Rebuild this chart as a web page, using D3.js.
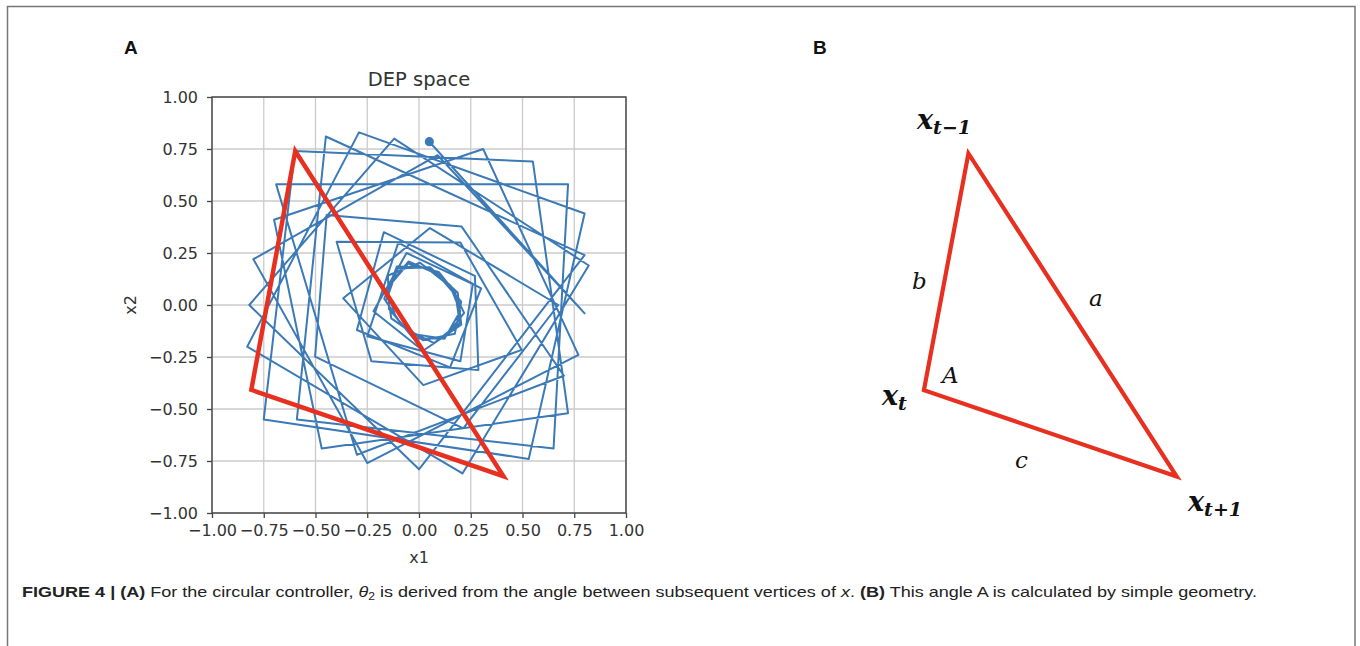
<!DOCTYPE html>
<html><head><meta charset="utf-8">
<script src="https://cdn.jsdelivr.net/npm/d3@7"></script>
<style>
body{margin:0;background:#fff;}
svg{display:block;}
</style></head>
<body><svg id="fig" width="1360" height="646"></svg>
<script>
// ---------- DATA ----------
const tickValues = [-1.00, -0.75, -0.50, -0.25, 0.00, 0.25, 0.50, 0.75, 1.00];
const trajX = [0.05, 0.80, 0.09, -0.80, -0.25, 0.77, 0.31, -0.70, -0.47, 0.72, 0.55, -0.60, -0.75, 0.53, 0.80, -0.29, -0.83, 0.21, 0.82, -0.12, -0.82, 0.00,
  0.80, -0.45, -0.59, 0.65, 0.72, -0.69, -0.30, 0.70,
  0.206, -0.446, -0.502, 0.214, 0.673, 0.053, -0.366, 0.021, 0.496, 0.20, -0.398, -0.23, 0.287, 0.27, -0.17, -0.30, 0.15, 0.30, -0.10, -0.25, 0.20, 0.26, -0.06, -0.22, 0.02,
  0.204, 0.187, 0.092, -0.051, -0.155, -0.134, -0.024, 0.121, 0.218, 0.153, 0.055, -0.107, -0.168, -0.088, 0.019, 0.173, 0.204, 0.117,
  0.005, -0.150, -0.145, -0.058, 0.073, 0.197, 0.175, 0.095, -0.052, -0.155, -0.113, -0.027, 0.124, 0.199, 0.150, 0.052, -0.104, -0.157];
const trajY = [0.785, -0.04, 0.72, 0.22, -0.76, -0.24, 0.75, 0.41, -0.69, -0.52, 0.69, 0.74, -0.55, -0.74, 0.44, 0.83, -0.20, -0.81, 0.19, 0.80, 0.00, -0.79,
  0.24, 0.81, -0.55, -0.69, 0.58, 0.58, -0.72, -0.34,
  0.377, 0.433, -0.248, -0.593, 0.000, 0.370, 0.032, -0.385, -0.216, 0.30, 0.304, -0.27, -0.3125, 0.14, 0.35, -0.12, -0.30, 0.08, 0.30, -0.15, -0.27, 0.10, 0.25, -0.03, -0.22,
  -0.094, 0.059, 0.148, 0.209, 0.083, -0.064, -0.140, -0.162, -0.038, 0.093, 0.180, 0.185, 0.030, -0.088, -0.169, -0.138, 0.016, 0.116,
  0.203, 0.142, -0.020, -0.118, -0.183, -0.086, 0.059, 0.159, 0.199, 0.079, -0.057, -0.161, -0.161, -0.030, 0.094, 0.182, 0.175, 0.026];
const triAX = [-0.598, -0.810, 0.408];
const triAY = [0.740, -0.408, -0.823];
// Panel B triangle (unitless 0-100 drawing coordinates)
const triBX = [28.2, 17.6, 77.8];
const triBY = [14.1, 66.7, 85.9];

// ---------- SETUP ----------
const svg = d3.select('#fig');
svg.append('rect').attr('x',7.5).attr('y',6.5).attr('width',1347.5).attr('height',660)
  .attr('fill','none').attr('stroke','#777').attr('stroke-width',1.5);

// Panel labels
svg.append('text').attr('x',124).attr('y',54).text('A')
  .attr('font-family','Liberation Sans, Arial, sans-serif').attr('font-weight','bold').attr('font-size',19).attr('fill','#111');
svg.append('text').attr('x',813).attr('y',54).text('B')
  .attr('font-family','Liberation Sans, Arial, sans-serif').attr('font-weight','bold').attr('font-size',19).attr('fill','#111');

// ---------- PANEL A ----------
const x = d3.scaleLinear().domain([-1,1]).range([212,626]);
const y = d3.scaleLinear().domain([-1,1]).range([513,97]);
const gA = svg.append('g');
const fmt = d3.format('.2f');

// grid
gA.append('g').selectAll('line').data(tickValues).join('line')
  .attr('x1',d=>x(d)).attr('x2',d=>x(d)).attr('y1',y(-1)).attr('y2',y(1))
  .attr('stroke','#cbcbcb').attr('stroke-width',1.3);
gA.append('g').selectAll('line').data(tickValues).join('line')
  .attr('y1',d=>y(d)).attr('y2',d=>y(d)).attr('x1',x(-1)).attr('x2',x(1))
  .attr('stroke','#cbcbcb').attr('stroke-width',1.3);

// trajectory
const traj = trajX.map((v,i)=>[v,trajY[i]]);
const line = d3.line().x(d=>x(d[0])).y(d=>y(d[1]));
gA.append('path').attr('d',line(traj)).attr('fill','none')
  .attr('stroke','#3b7ab7').attr('stroke-width',2).attr('stroke-linejoin','round').attr('stroke-linecap','round');
gA.append('circle').attr('cx',x(trajX[0])).attr('cy',y(trajY[0])).attr('r',4.6).attr('fill','#3b7ab7');

// red triangle
const triA = triAX.map((v,i)=>[v,triAY[i]]);
gA.append('path').attr('d',d3.line().x(d=>x(d[0])).y(d=>y(d[1])).curve(d3.curveLinearClosed)(triA))
  .attr('fill','none').attr('stroke','#e7301f').attr('stroke-width',4.5).attr('stroke-linejoin','miter');

// axes
const axB = gA.append('g').attr('transform',`translate(0,${y(-1)})`)
  .call(d3.axisBottom(x).tickValues(tickValues).tickFormat(fmt).tickSize(5).tickPadding(7));
const axL = gA.append('g').attr('transform',`translate(${x(-1)},0)`)
  .call(d3.axisLeft(y).tickValues(tickValues).tickFormat(fmt).tickSize(5).tickPadding(9));
[axB,axL].forEach(a=>{
  a.select('.domain').remove();
  a.selectAll('line').attr('stroke','#444').attr('stroke-width',1.3);
  a.selectAll('text').attr('font-family','DejaVu Sans, sans-serif').attr('font-size',16).attr('fill','#333');
});
gA.append('rect').attr('x',x(-1)).attr('y',y(1)).attr('width',x(1)-x(-1)).attr('height',y(-1)-y(1))
  .attr('fill','none').attr('stroke','#444').attr('stroke-width',1.4);

gA.append('text').attr('x',(x(-1)+x(1))/2).attr('y',86).attr('text-anchor','middle')
  .attr('font-family','DejaVu Sans, sans-serif').attr('font-size',19.5).attr('fill','#333').text('DEP space');
gA.append('text').attr('x',(x(-1)+x(1))/2).attr('y',563).attr('text-anchor','middle')
  .attr('font-family','DejaVu Sans, sans-serif').attr('font-size',16).attr('fill','#333').text('x1');
gA.append('text').attr('transform',`translate(136,${y(0)}) rotate(-90)`).attr('text-anchor','middle')
  .attr('font-family','DejaVu Sans, sans-serif').attr('font-size',16).attr('fill','#333').text('x2');

// ---------- PANEL B ----------
const xB = d3.scaleLinear().domain([0,100]).range([850,1270]);
const yB = d3.scaleLinear().domain([0,100]).range([90,540]);
const gB = svg.append('g');
const triB = triBX.map((v,i)=>[v,triBY[i]]);
gB.append('path').attr('d',d3.line().x(d=>xB(d[0])).y(d=>yB(d[1])).curve(d3.curveLinearClosed)(triB))
  .attr('fill','none').attr('stroke','#e7301f').attr('stroke-width',4.2).attr('stroke-linejoin','miter');

const serif = 'DejaVu Serif, serif';
function vlabel(px,py,main,sub){
  const t = gB.append('text').attr('x',px).attr('y',py).attr('font-family',serif)
    .attr('font-style','italic').attr('font-weight','bold').attr('fill','#111');
  t.append('tspan').attr('font-size',27).text(main);
  t.append('tspan').attr('font-size',19).attr('dy',5).text(sub);
}
vlabel(917,129,'x','t\u22121');
vlabel(882,405,'x','t');
vlabel(1188,511,'x','t+1');
function slabel(px,py,s){
  gB.append('text').attr('x',px).attr('y',py).attr('font-family',serif).attr('font-style','italic')
    .attr('font-size',23).attr('fill','#111').text(s);
}
slabel(912,289,'b');
slabel(1089,306,'a');
slabel(942,383,'A');
slabel(1015,468,'c');

// ---------- CAPTION ----------
const cap = svg.append('text').attr('x',22).attr('y',597)
  .attr('font-family','Liberation Sans Narrow, Liberation Sans, Arial, sans-serif').attr('font-size',15).attr('fill','#222')
  .attr('textLength',1235).attr('lengthAdjust','spacingAndGlyphs');
cap.append('tspan').attr('font-weight','bold').text('FIGURE 4 | (A)');
cap.append('tspan').text(' For the circular controller, ');
cap.append('tspan').attr('font-style','italic').text('\u03b8');
cap.append('tspan').attr('font-size',10).attr('dy',3).text('2');
cap.append('tspan').attr('dy',-3).text(' is derived from the angle between subsequent vertices of ');
cap.append('tspan').attr('font-style','italic').text('x');
cap.append('tspan').text('. ');
cap.append('tspan').attr('font-weight','bold').text('(B)');
cap.append('tspan').text(' This angle A is calculated by simple geometry.');
</script></body></html>
